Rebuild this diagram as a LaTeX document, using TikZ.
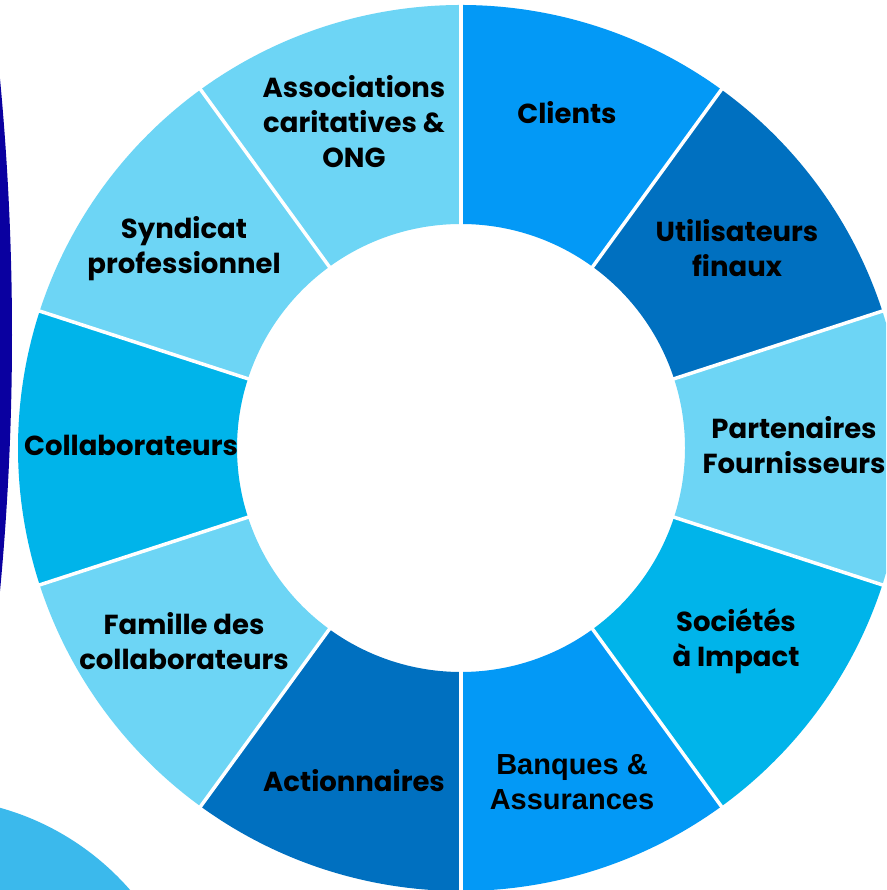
\documentclass[tikz,border=0pt]{standalone}
\usepackage{fontspec}
\setmainfont{Poppins}
\newfontfamily\arialb{Liberation Sans}
\definecolor{cbright}{HTML}{0399F6}
\definecolor{cdark}{HTML}{0070C0}
\definecolor{clight}{HTML}{6DD5F5}
\definecolor{cmid}{HTML}{00B4EA}
\definecolor{cnavy}{RGB}{10,0,160}
\definecolor{cball}{HTML}{3BB9EC}
\tikzset{
  lab/.style={align=center, font=\fontsize{27.5}{35}\selectfont\bfseries, text=black, inner sep=0pt},
  labarial/.style={align=center, font=\fontsize{29}{35}\selectfont\arialb\bfseries, text=black, inner sep=0pt},
  sep/.style={draw=white, line width=3.5pt}
}
\newcommand{\seg}[3]{\fill[#3] (#1:443) arc[start angle=#1, end angle=#2, radius=443] -- (#2:224) arc[start angle=#2, end angle=#1, radius=224] -- cycle;}
\begin{document}
\begin{tikzpicture}[x=1pt,y=1pt]
\useasboundingbox (0,0) rectangle (886,890);
\clip (0,0) rectangle (886,890);
\fill[white] (0,0) rectangle (886,890);
% background shapes
\fill[cnavy] (-2688,555) circle[radius=2700];
\fill[cball] (-72,-176) circle[radius=268];
% donut
\begin{scope}[shift={(461,442)}]
\seg{54}{90}{cbright}
\seg{90}{126}{clight}
\seg{126}{162}{clight}
\seg{162}{198}{cmid}
\seg{198}{234}{clight}
\seg{234}{270}{cdark}
\seg{270}{306}{cbright}
\seg{306}{342}{cmid}
\seg{342}{378}{clight}
\seg{18}{54}{cdark}
\foreach \a in {18,54,...,342} {\draw[sep] (\a:222) -- (\a:446);}
\end{scope}
% labels
\node[lab] (assoc) at (354,768) {Associations\\caritatives \&\\ONG};
\node[lab] (clients) at (567,777) {Clients};
\node[lab] (util) at (737,642) {Utilisateurs\\finaux};
\node[lab] (part) at (794,445) {Partenaires\\Fournisseurs};
\node[lab] (soc) at (736,249) {Sociétés\\à Impact};
\node[labarial] (banq) at (572,108) {Banques \&\\Assurances};
\node[lab] (action) at (354,109) {Actionnaires};
\node[lab] (famille) at (184,249) {Famille des\\collaborateurs};
\node[lab] (collab) at (131,445) {Collaborateurs};
\node[lab] (synd) at (184,641) {Syndicat\\professionnel};
\end{tikzpicture}
\end{document}
